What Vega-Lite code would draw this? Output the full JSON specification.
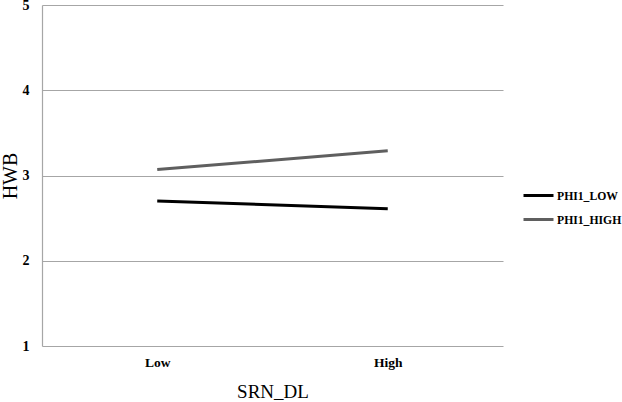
{
  "$schema": "https://vega.github.io/schema/vega-lite/v6.json",
  "width": 461,
  "height": 341,
  "autosize": {"type": "none"},
  "padding": {"left": 42, "top": 5, "right": 119, "bottom": 56},
  "background": "white",
  "config": {
    "view": {"stroke": null},
    "font": "Liberation Serif"
  },
  "data": {
    "values": [
      {"SRN_DL": "Low", "series": "PHI1_LOW", "HWB": 2.70},
      {"SRN_DL": "High", "series": "PHI1_LOW", "HWB": 2.61},
      {"SRN_DL": "Low", "series": "PHI1_HIGH", "HWB": 3.07},
      {"SRN_DL": "High", "series": "PHI1_HIGH", "HWB": 3.29}
    ]
  },
  "mark": {"type": "line", "strokeWidth": 3},
  "encoding": {
    "x": {
      "field": "SRN_DL",
      "type": "ordinal",
      "sort": ["Low", "High"],
      "scale": {"type": "point", "padding": 0.5},
      "axis": {
        "title": "SRN_DL",
        "labelAngle": 0,
        "labelFont": "Liberation Serif",
        "labelFontWeight": "bold",
        "labelFontSize": 13.5,
        "labelPadding": 9,
        "ticks": false,
        "domain": false,
        "titleFont": "Liberation Serif",
        "titleFontWeight": "normal",
        "titleFontSize": 19,
        "titlePadding": 14,
        "titleColor": "#000",
        "labelColor": "#000"
      }
    },
    "y": {
      "field": "HWB",
      "type": "quantitative",
      "scale": {"domain": [1, 5], "nice": false, "zero": false},
      "axis": {
        "title": "HWB",
        "values": [1, 2, 3, 4, 5],
        "grid": true,
        "gridColor": "#a6a6a6",
        "gridWidth": 1.2,
        "domain": true,
        "domainColor": "#a6a6a6",
        "domainWidth": 1.2,
        "ticks": false,
        "labelFont": "Liberation Serif",
        "labelFontWeight": "bold",
        "labelFontSize": 14,
        "labelPadding": 13,
        "labelColor": "#000",
        "titleFont": "Liberation Serif",
        "titleFontWeight": "normal",
        "titleFontSize": 20,
        "titlePadding": 2,
        "titleColor": "#000"
      }
    },
    "color": {
      "field": "series",
      "type": "nominal",
      "sort": ["PHI1_LOW", "PHI1_HIGH"],
      "scale": {"domain": ["PHI1_LOW", "PHI1_HIGH"], "range": ["#000000", "#5f5f5f"]},
      "legend": {
        "title": null,
        "orient": "none",
        "legendX": 480,
        "legendY": 174,
        "symbolType": "stroke",
        "symbolSize": 900,
        "symbolStrokeWidth": 3,
        "labelFont": "Liberation Serif",
        "labelFontWeight": "bold",
        "labelFontSize": 11.7,
        "labelColor": "#000",
        "labelOffset": 2,
        "rowPadding": -4
      }
    }
  }
}
